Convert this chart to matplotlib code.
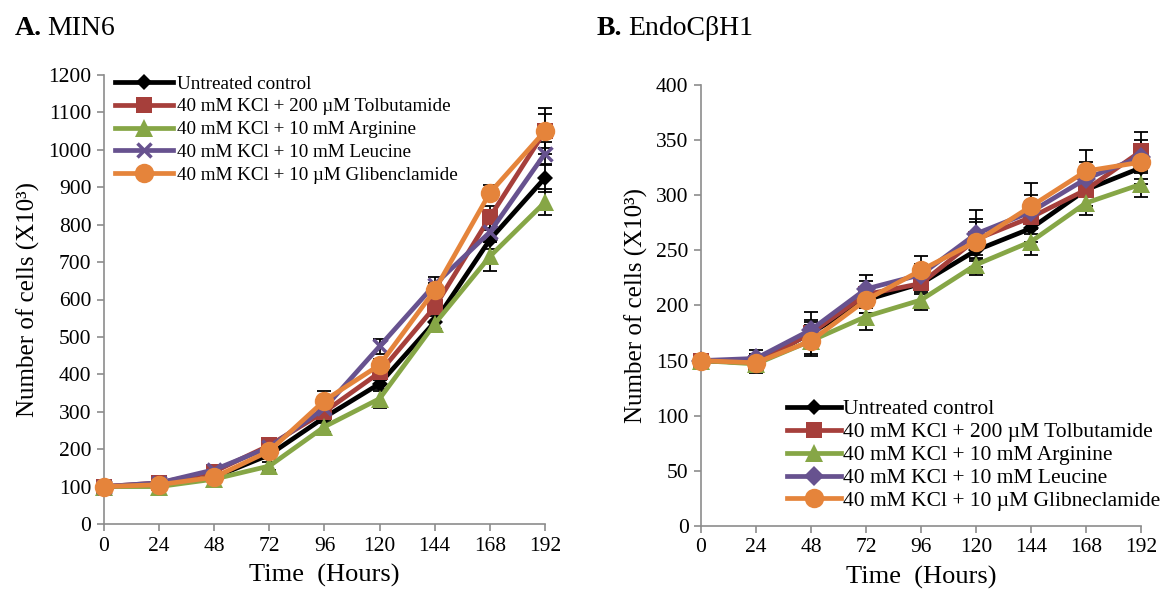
import numpy as np
import matplotlib.pyplot as plt

plt.rcParams['font.family'] = ['Liberation Serif', 'DejaVu Serif']

hours = [0, 24, 48, 72, 96, 120, 144, 168, 192]

# A. MIN6 (cells x10^3)
min6_ctrl = [100, 105, 125, 185, 285, 375, 540, 760, 925]
min6_tolb = [100, 110, 140, 210, 300, 405, 580, 820, 1050]
min6_arg = [100, 100, 120, 155, 260, 335, 535, 715, 860]
min6_leu = [100, 110, 145, 205, 310, 475, 640, 780, 990]
min6_glib = [100, 105, 125, 195, 330, 425, 625, 885, 1050]

min6_ctrl_err = [5, 5, 8, 10, 15, 20, 20, 25, 37]
min6_tolb_err = [5, 8, 10, 12, 15, 20, 20, 30, 45]
min6_arg_err = [5, 5, 8, 10, 15, 25, 20, 40, 35]
min6_leu_err = [5, 8, 10, 10, 15, 20, 20, 25, 30]
min6_glib_err = [5, 8, 10, 12, 25, 15, 20, 20, 62]

# B. EndoCbH1 (cells x10^3)
endo_ctrl = [150, 148, 175, 205, 220, 250, 270, 305, 325]
endo_tolb = [150, 148, 175, 210, 220, 260, 280, 305, 340]
endo_arg = [150, 147, 168, 190, 205, 237, 258, 293, 310]
endo_leu = [150, 152, 178, 215, 228, 265, 285, 315, 335]
endo_glib = [150, 148, 168, 205, 232, 258, 290, 322, 330]

endo_ctrl_err = [3, 8, 10, 12, 8, 15, 12, 15, 15]
endo_tolb_err = [3, 8, 12, 12, 10, 18, 15, 15, 17]
endo_arg_err = [3, 8, 14, 12, 9, 9, 12, 11, 12]
endo_leu_err = [3, 8, 16, 13, 10, 22, 15, 15, 15]
endo_glib_err = [3, 8, 12, 12, 13, 18, 21, 19, 15]

labels_a = ['Untreated control', '40 mM KCl + 200 µM Tolbutamide',
            '40 mM KCl + 10 mM Arginine', '40 mM KCl + 10 mM Leucine',
            '40 mM KCl + 10 µM Glibenclamide']
labels_b = ['Untreated control', '40 mM KCl + 200 µM Tolbutamide',
            '40 mM KCl + 10 mM Arginine', '40 mM KCl + 10 mM Leucine',
            '40 mM KCl + 10 µM Glibneclamide']

colors = ['black', '#A63F3B', '#86A646', '#67528F', '#E5843B']
markers_a = ['D', 's', '^', 'x', 'o']
markers_b = ['D', 's', '^', 'D', 'o']
msizes = [8, 12, 13, 10, 14]

fig = plt.figure(figsize=(11.62, 5.99), dpi=100)
ax1 = fig.add_axes([0.0895, 0.1252, 0.3795, 0.7496])
ax2 = fig.add_axes([0.6033, 0.1219, 0.3787, 0.7362])


def draw(ax, series, errs, labels, markers):
    for y, e in zip(series, errs):
        ax.errorbar(hours, y, yerr=e, fmt='none', ecolor='black',
                    elinewidth=1.3, capsize=5, capthick=1.3, zorder=1, clip_on=False)
    for i, y in enumerate(series):
        m = markers[i]
        ax.plot(hours, y, color=colors[i], lw=3.4, marker=m, ms=msizes[i],
                mew=2.5 if m == 'x' else 0, label=labels[i], zorder=2 + i, clip_on=False)
    ax.set_xlim(0, 192)
    ax.set_xticks(hours)
    for s in ['top', 'right']:
        ax.spines[s].set_visible(False)
    for s in ['left', 'bottom']:
        ax.spines[s].set_color('#8C8C8C')
        ax.spines[s].set_linewidth(1.2)
    ax.tick_params(direction='out', length=5, width=1.2, color='#8C8C8C', labelsize=15.5, pad=4)
    ax.set_xlabel('Time  (Hours)', fontsize=19, labelpad=6)
    ax.set_ylabel('Number of cells (X10³)', fontsize=18, labelpad=6)


draw(ax1, [min6_ctrl, min6_tolb, min6_arg, min6_leu, min6_glib],
     [min6_ctrl_err, min6_tolb_err, min6_arg_err, min6_leu_err, min6_glib_err],
     labels_a, markers_a)
ax1.set_ylim(0, 1200)
ax1.set_yticks(range(0, 1201, 100))
ax1.legend(loc='upper left', bbox_to_anchor=(0.0, 1.025), frameon=False, fontsize=13.8,
           handlelength=3.0, handletextpad=0.2, labelspacing=0.28, borderaxespad=0.2)

draw(ax2, [endo_ctrl, endo_tolb, endo_arg, endo_leu, endo_glib],
     [endo_ctrl_err, endo_tolb_err, endo_arg_err, endo_leu_err, endo_glib_err],
     labels_b, markers_b)
ax2.set_ylim(0, 400)
ax2.set_yticks(range(0, 401, 50))
ax2.legend(loc='lower right', bbox_to_anchor=(1.078, 0.0), frameon=False, fontsize=15.5,
           handlelength=2.5, handletextpad=0.1, labelspacing=0.13, borderaxespad=0.3)

fig.text(0.013, 0.953, 'A.', fontsize=20, fontweight='bold', va='center')
fig.text(0.041, 0.953, 'MIN6', fontsize=20, va='center')
fig.text(0.513, 0.953, 'B.', fontsize=20, fontweight='bold', va='center')
fig.text(0.541, 0.953, 'EndoCβH1', fontsize=20, va='center')

fig.savefig('out.png', dpi=100)
